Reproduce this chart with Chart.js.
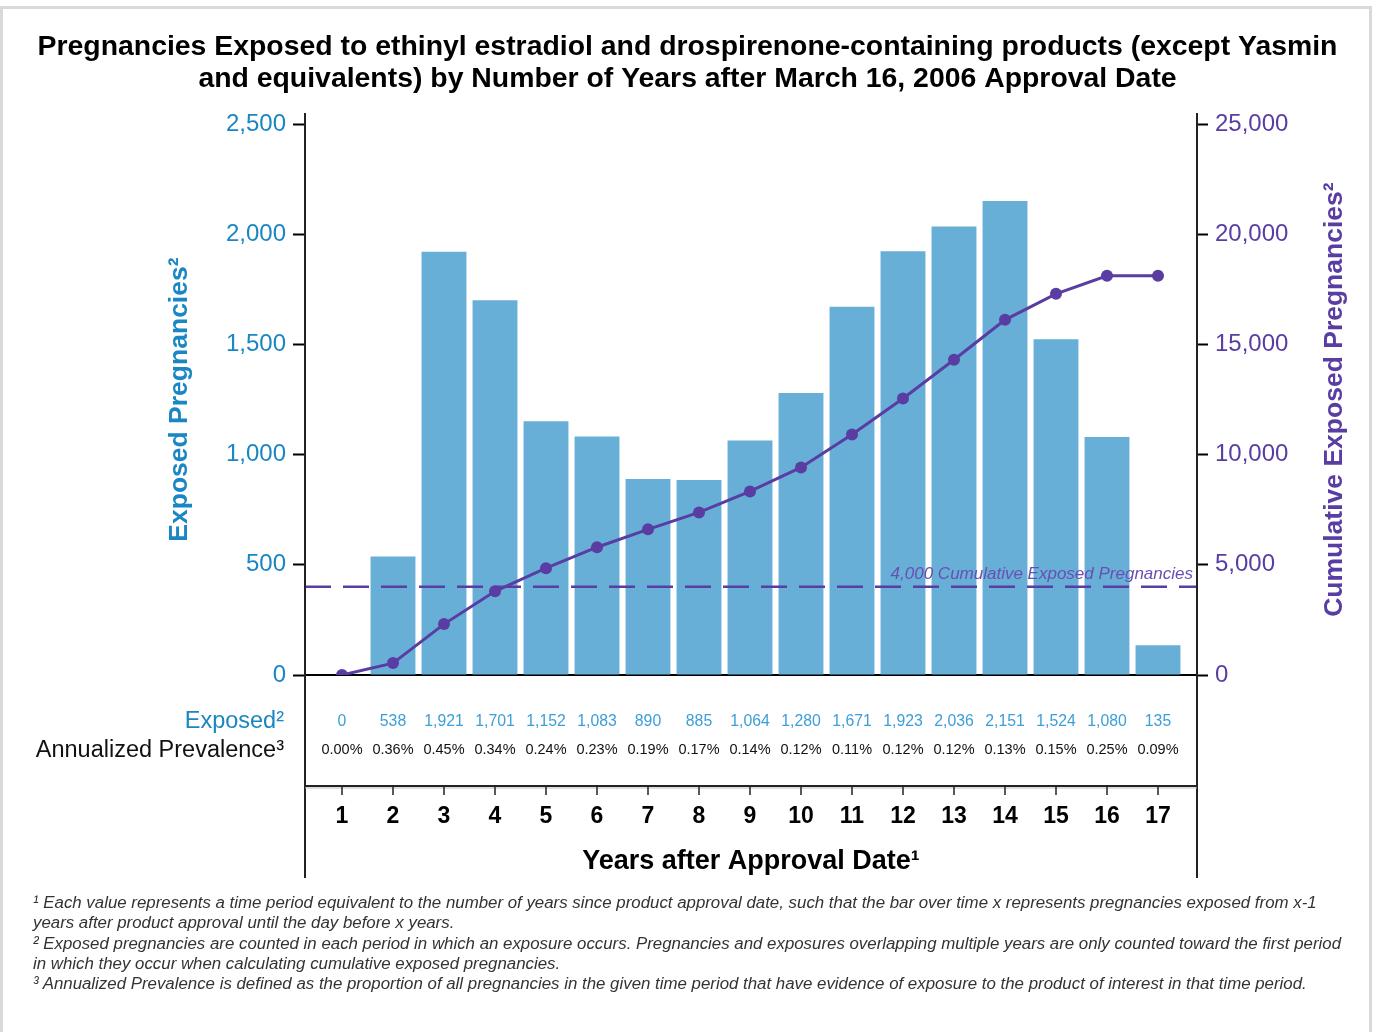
<!DOCTYPE html>
<html>
<head>
<meta charset="utf-8">
<script src="https://cdn.jsdelivr.net/npm/chart.js@4"></script>
<style>
    body { margin: 0; background: #fff; font-family: "Liberation Sans", Arial, sans-serif; }
    #frame {
        position: absolute; left: 0; top: 6px; width: 1366px; height: 1040px;
        border: 3px solid #d9d9d9; border-bottom: none;
    }
    #wrap { position: absolute; left: 0; top: 0; width: 1375px; height: 1032px; }
    #notes {
        position: absolute; left: 33px; top: 893px; width: 1330px;
        font-style: italic; font-size: 16.85px; line-height: 20.3px; color: #333;
        white-space: nowrap;
    }
    #notes p { margin: 0; }
</style>
</head>
<body>
<div id="frame"></div>
<div id="wrap"><canvas id="chart" width="1375" height="1032"></canvas></div>
<div id="notes">
    <p>¹ Each value represents a time period equivalent to the number of years since product approval date, such that the bar over time x represents pregnancies exposed from x-1<br>years after product approval until the day before x years.</p>
    <p>² Exposed pregnancies are counted in each period in which an exposure occurs. Pregnancies and exposures overlapping multiple years are only counted toward the first period<br>in which they occur when calculating cumulative exposed pregnancies.</p>
    <p>³ Annualized Prevalence is defined as the proportion of all pregnancies in the given time period that have evidence of exposure to the product of interest in that time period.</p>
</div>
<script>
// ─────────────────────────────
// DATA
// ─────────────────────────────
const years = [1, 2, 3, 4, 5, 6, 7, 8, 9, 10, 11, 12, 13, 14, 15, 16, 17];
const exposed = [0, 538, 1921, 1701, 1152, 1083, 890, 885, 1064, 1280, 1671, 1923, 2036, 2151, 1524, 1080, 135];
const cumulative = [0, 540, 2310, 3800, 4850, 5800, 6610, 7380, 8330, 9420, 10920, 12550, 14310, 16120, 17300, 18120, 18120];
const prevalence = ["0.00%", "0.36%", "0.45%", "0.34%", "0.24%", "0.23%", "0.19%", "0.17%", "0.14%", "0.12%", "0.11%", "0.12%", "0.12%", "0.13%", "0.15%", "0.25%", "0.09%"];
const leftTicks = [0, 500, 1000, 1500, 2000, 2500];
const rightTicks = [0, 5000, 10000, 15000, 20000, 25000];
const threshold = 4000;

const BLUE = "#1a86c3";
const BLUE_LIGHT = "#3d9ed8";
const BAR = "#67afd7";
const PURPLE = "#5a3da2";
const FONT = "'Liberation Sans', Arial, sans-serif";

const fmt = v => v.toLocaleString("en-US");

// ─────────────────────────────
// EXTRA DRAWING (table, axes, threshold)
// ─────────────────────────────
const extras = {
    id: "extras",
    afterDraw(chart) {
        const { ctx, chartArea } = chart;
        const x = chart.scales.x;
        const y1 = chart.scales.y1;
        const L = chartArea.left, R = chartArea.right;

        ctx.save();

        // threshold dashed line
        const ty = y1.getPixelForValue(threshold);
        ctx.strokeStyle = PURPLE;
        ctx.lineWidth = 2.5;
        ctx.setLineDash([26, 12]);
        ctx.beginPath();
        ctx.moveTo(L, ty);
        ctx.lineTo(R, ty);
        ctx.stroke();
        ctx.setLineDash([]);

        ctx.fillStyle = "#6a4fb3";
        ctx.font = "italic 17px " + FONT;
        ctx.textAlign = "right";
        ctx.textBaseline = "alphabetic";
        ctx.fillText(fmt(threshold) + " Cumulative Exposed Pregnancies", R - 4, ty - 8);

        // vertical frame lines
        ctx.strokeStyle = "#222";
        ctx.lineWidth = 2;
        [L, R].forEach(px => {
            ctx.beginPath();
            ctx.moveTo(px, 113);
            ctx.lineTo(px, 878);
            ctx.stroke();
        });

        // table bottom line with ticks
        const by = 786;
        ctx.beginPath();
        ctx.moveTo(L, by);
        ctx.lineTo(R, by);
        ctx.stroke();
        ctx.strokeStyle = "#bbb";
        ctx.lineWidth = 1;
        ctx.beginPath();
        ctx.moveTo(L, by + 2);
        ctx.lineTo(R, by + 2);
        ctx.stroke();
        ctx.strokeStyle = "#222";
        ctx.lineWidth = 1.5;
        years.forEach(v => {
            const px = x.getPixelForValue(v);
            ctx.beginPath();
            ctx.moveTo(px, by);
            ctx.lineTo(px, by + 9);
            ctx.stroke();
        });

        // table rows
        ctx.textBaseline = "middle";
        ctx.textAlign = "right";
        ctx.font = "23.5px " + FONT;
        ctx.fillStyle = BLUE;
        ctx.fillText("Exposed²", 284, 722);
        ctx.fillStyle = "#111";
        ctx.fillText("Annualized Prevalence³", 284, 751);

        ctx.textAlign = "center";
        years.forEach((v, i) => {
            const px = x.getPixelForValue(v);
            ctx.font = "15.8px " + FONT;
            ctx.fillStyle = BLUE_LIGHT;
            ctx.fillText(fmt(exposed[i]), px, 722);
            ctx.font = "14.5px " + FONT;
            ctx.fillStyle = "#111";
            ctx.fillText(prevalence[i], px, 750);
        });

        // right axis title (reads bottom to top)
        ctx.translate(1335, (chartArea.top + chartArea.bottom) / 2);
        ctx.rotate(-Math.PI / 2);
        ctx.font = "bold 26.5px " + FONT;
        ctx.fillStyle = PURPLE;
        ctx.textAlign = "center";
        ctx.fillText("Cumulative Exposed Pregnancies²", 0, 0);

        ctx.restore();
    }
};

// ─────────────────────────────
// CHART
// ─────────────────────────────
new Chart(document.getElementById("chart"), {
    type: "bar",
    data: {
        datasets: [{
            type: "line",
            data: years.map((v, i) => ({ x: v, y: cumulative[i] })),
            yAxisID: "y1",
            borderColor: PURPLE,
            backgroundColor: PURPLE,
            borderWidth: 3,
            pointRadius: 6,
            pointBorderWidth: 0,
            order: 0
        }, {
            type: "bar",
            data: years.map((v, i) => ({ x: v, y: exposed[i] })),
            yAxisID: "y",
            backgroundColor: BAR,
            categoryPercentage: 1,
            barPercentage: 0.88,
            order: 1
        }]
    },
    options: {
        responsive: false,
        animation: false,
        layout: { padding: { left: 0, right: 0, top: 0, bottom: 152 } },
        plugins: {
            legend: { display: false },
            tooltip: { enabled: false },
            title: {
                display: true,
                text: ["Pregnancies Exposed to ethinyl estradiol and drospirenone-containing products (except Yasmin",
                       "and equivalents) by Number of Years after March 16, 2006 Approval Date"],
                color: "#000",
                font: { family: FONT, size: 28.4, weight: "bold", lineHeight: 1.13 },
                padding: { top: 31, bottom: 29 }
            }
        },
        scales: {
            x: {
                type: "linear",
                offset: false,
                min: 1 - 37 / 51,
                max: 17 + 39 / 51,
                afterBuildTicks: s => { s.ticks = years.map(v => ({ value: v })); },
                afterFit: s => { s.height = 205; },
                grid: { display: true, offset: false, drawOnChartArea: false, drawTicks: false },
                border: { display: true, color: "#000", width: 2 },
                ticks: {
                    padding: 128,
                    color: "#000",
                    font: { family: FONT, size: 23, weight: "bold" }
                },
                title: {
                    display: true,
                    text: "Years after Approval Date¹",
                    color: "#000",
                    font: { family: FONT, size: 27, weight: "bold" },
                    padding: { top: 0, bottom: 2 }
                }
            },
            y: {
                position: "left",
                min: 0,
                max: 2500,
                afterBuildTicks: s => { s.ticks = leftTicks.map(v => ({ value: v })); },
                afterFit: s => { s.width = 305; },
                grid: { drawOnChartArea: false, tickLength: 12, tickColor: "#000", tickWidth: 2 },
                border: { display: false },
                ticks: {
                    padding: 7,
                    color: BLUE,
                    font: { family: FONT, size: 24 },
                    callback: v => fmt(v)
                },
                title: {
                    display: true,
                    text: "Exposed Pregnancies²",
                    color: BLUE,
                    font: { family: FONT, size: 26.5, weight: "bold" },
                    padding: { top: 164 }
                }
            },
            y1: {
                position: "right",
                min: 0,
                max: 25000,
                afterBuildTicks: s => { s.ticks = rightTicks.map(v => ({ value: v })); },
                afterFit: s => { s.width = 178; },
                grid: { drawOnChartArea: false, tickLength: 11, tickColor: "#000", tickWidth: 2 },
                border: { display: false },
                ticks: {
                    padding: 7,
                    color: PURPLE,
                    font: { family: FONT, size: 24 },
                    callback: v => fmt(v)
                }
            }
        }
    },
    plugins: [extras]
});
</script>
</body>
</html>
